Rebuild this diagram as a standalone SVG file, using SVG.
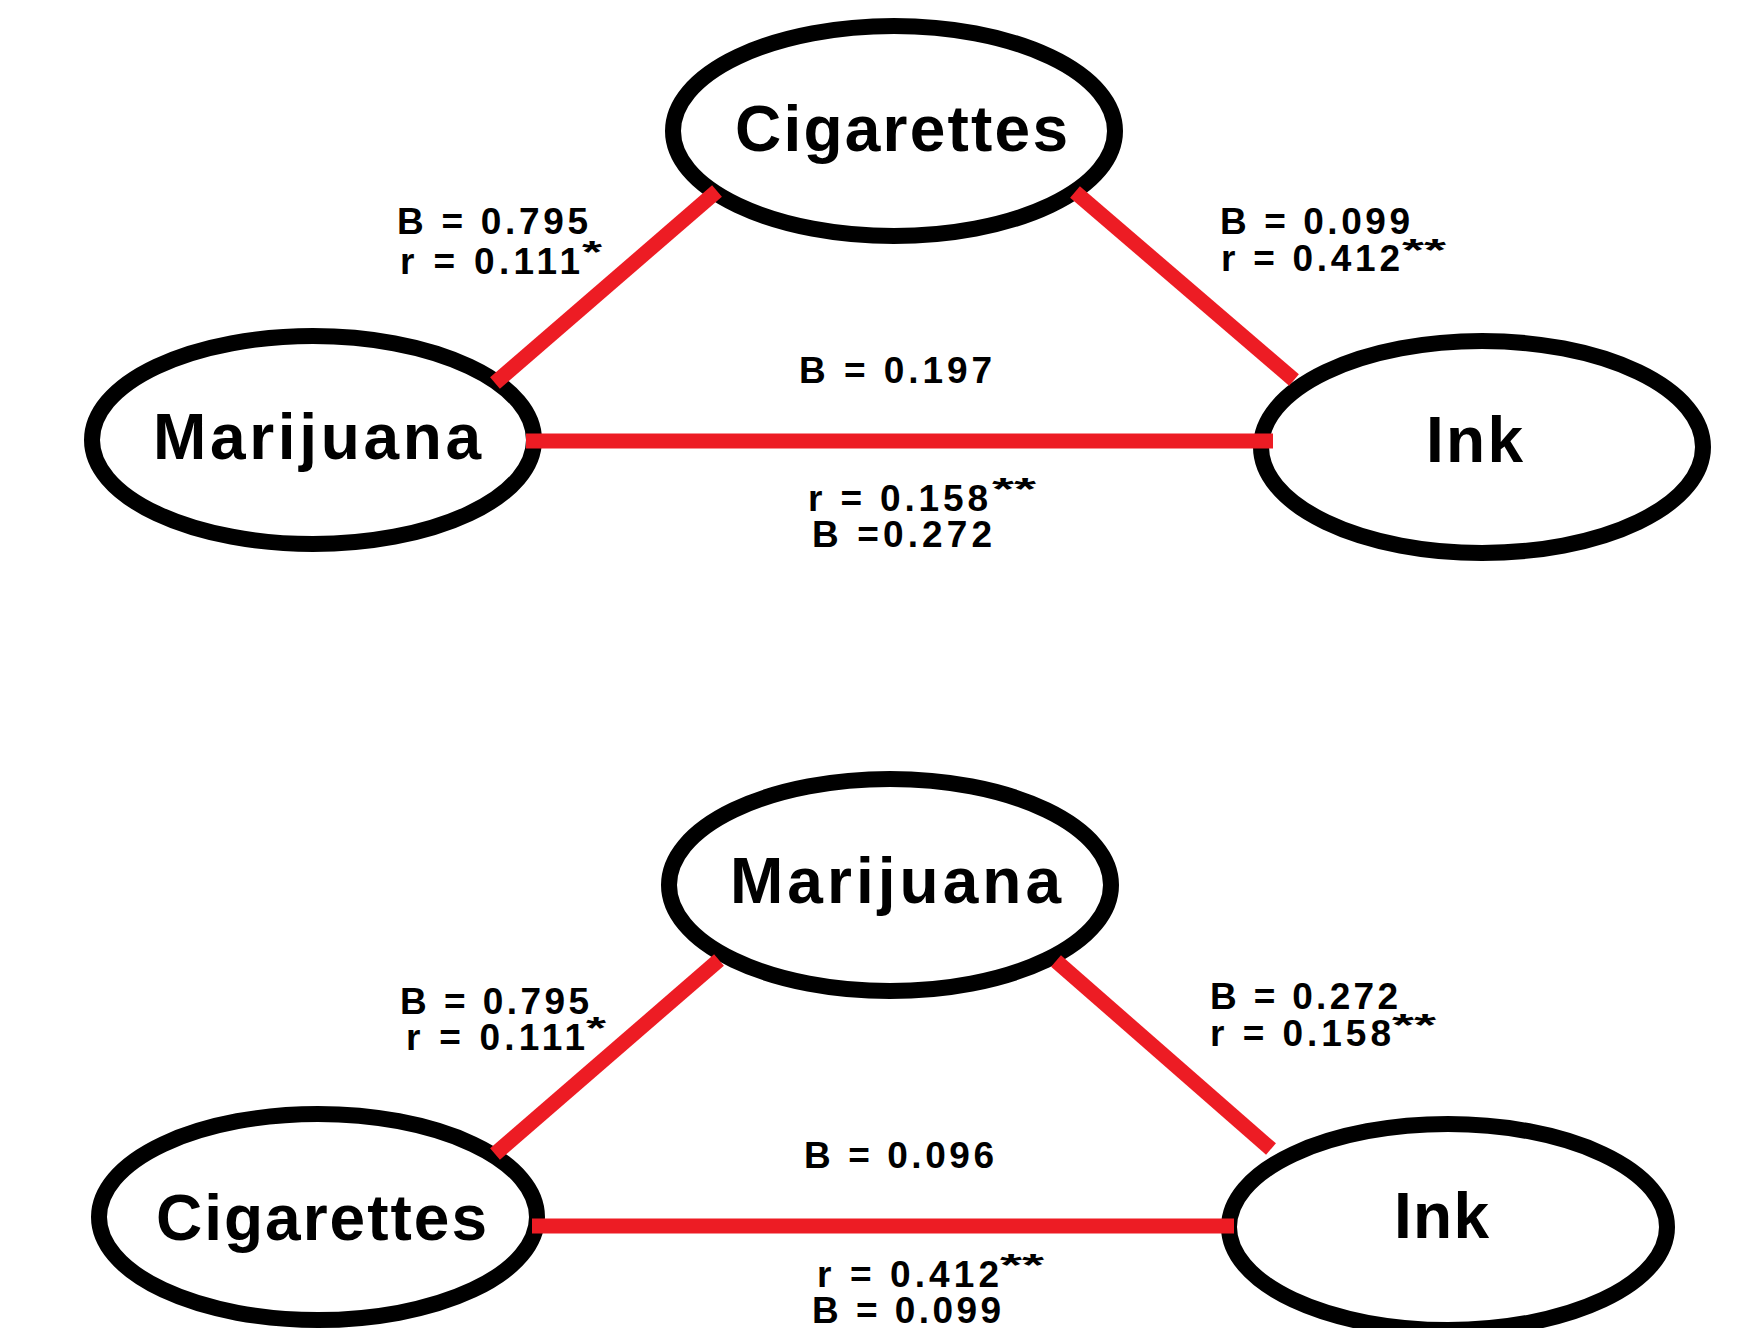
<svg xmlns="http://www.w3.org/2000/svg" width="1752" height="1328" viewBox="0 0 1752 1328">
  <style>
    .node ellipse { fill: #ffffff; stroke: #000000; stroke-width: 16; }
    .node text { font-family: "Liberation Sans", Arial, sans-serif; font-weight: bold; font-size: 64px; fill: #000000; }
    .edge line { stroke: #ED1C24; stroke-width: 15; stroke-linecap: butt; }
    .lbl { font-family: "Liberation Sans", Arial, sans-serif; font-weight: bold; font-size: 37px; fill: #000000; }
    .sup { font-family: "Liberation Sans", Arial, sans-serif; font-weight: bold; font-size: 32px; fill: #000000; }
  </style>
  <rect width="1752" height="1328" fill="#ffffff"/>

  <!-- Upper model: Marijuana -> Cigarettes -> Ink -->
  <g id="top-cigarettes" class="node">
    <ellipse cx="894" cy="131" rx="221" ry="105"/>
    <text x="735" y="151" textLength="333" lengthAdjust="spacing">Cigarettes</text>
  </g>
  <g id="top-marijuana" class="node">
    <ellipse cx="313" cy="440" rx="221" ry="104"/>
    <text x="153" y="459" textLength="328" lengthAdjust="spacing">Marijuana</text>
  </g>
  <g id="top-ink" class="node">
    <ellipse cx="1482" cy="447" rx="221" ry="106"/>
    <text x="1426" y="462" textLength="97" lengthAdjust="spacing">Ink</text>
  </g>

  <!-- Lower model: Cigarettes -> Marijuana -> Ink -->
  <g id="bottom-marijuana" class="node">
    <ellipse cx="890" cy="885" rx="221" ry="106"/>
    <text x="730" y="903" textLength="331" lengthAdjust="spacing">Marijuana</text>
  </g>
  <g id="bottom-cigarettes" class="node">
    <ellipse cx="318" cy="1217" rx="219" ry="103"/>
    <text x="156" y="1240" textLength="331" lengthAdjust="spacing">Cigarettes</text>
  </g>
  <g id="bottom-ink" class="node">
    <ellipse cx="1448" cy="1227" rx="219" ry="103"/>
    <text x="1394" y="1238" textLength="95" lengthAdjust="spacing">Ink</text>
  </g>

  <g id="connectors">
    <!-- upper model edges -->
    <g class="edge">
      <line x1="717" y1="191" x2="495" y2="383"/>
      <text class="lbl" x="397" y="234" textLength="191" lengthAdjust="spacing">B = 0.795</text>
      <text class="lbl" x="400" y="274" textLength="180" lengthAdjust="spacing">r = 0.111</text>
      <text class="sup" x="582" y="263" textLength="20" lengthAdjust="spacingAndGlyphs">*</text>
    </g>
    <g class="edge">
      <line x1="1075" y1="192" x2="1294" y2="380"/>
      <text class="lbl" x="1220" y="234" textLength="190" lengthAdjust="spacing">B = 0.099</text>
      <text class="lbl" x="1221" y="271" textLength="179" lengthAdjust="spacing">r = 0.412</text>
      <text class="sup" x="1402" y="261" textLength="44" lengthAdjust="spacingAndGlyphs">**</text>
    </g>
    <g class="edge">
      <line x1="526" y1="441" x2="1273" y2="441"/>
      <text class="lbl" x="799" y="383" textLength="193" lengthAdjust="spacing">B = 0.197</text>
      <text class="lbl" x="808" y="511" textLength="180" lengthAdjust="spacing">r = 0.158</text>
      <text class="sup" x="992" y="500" textLength="44" lengthAdjust="spacingAndGlyphs">**</text>
      <text class="lbl" x="812" y="547" textLength="180" lengthAdjust="spacing">B =0.272</text>
    </g>

    <!-- lower model edges -->
    <g class="edge">
      <line x1="719" y1="960" x2="495" y2="1154"/>
      <text class="lbl" x="400" y="1014" textLength="189" lengthAdjust="spacing">B = 0.795</text>
      <text class="lbl" x="406" y="1050" textLength="179" lengthAdjust="spacing">r = 0.111</text>
      <text class="sup" x="586" y="1039" textLength="20" lengthAdjust="spacingAndGlyphs">*</text>
    </g>
    <g class="edge">
      <line x1="1056" y1="961" x2="1271" y2="1149"/>
      <text class="lbl" x="1210" y="1009" textLength="188" lengthAdjust="spacing">B = 0.272</text>
      <text class="lbl" x="1210" y="1046" textLength="181" lengthAdjust="spacing">r = 0.158</text>
      <text class="sup" x="1392" y="1036" textLength="44" lengthAdjust="spacingAndGlyphs">**</text>
    </g>
    <g class="edge">
      <line x1="532" y1="1226" x2="1234" y2="1226"/>
      <text class="lbl" x="804" y="1168" textLength="190" lengthAdjust="spacing">B = 0.096</text>
      <text class="lbl" x="817" y="1287" textLength="182" lengthAdjust="spacing">r = 0.412</text>
      <text class="sup" x="1000" y="1276" textLength="44" lengthAdjust="spacingAndGlyphs">**</text>
      <text class="lbl" x="812" y="1323" textLength="189" lengthAdjust="spacing">B = 0.099</text>
    </g>
  </g>
</svg>
